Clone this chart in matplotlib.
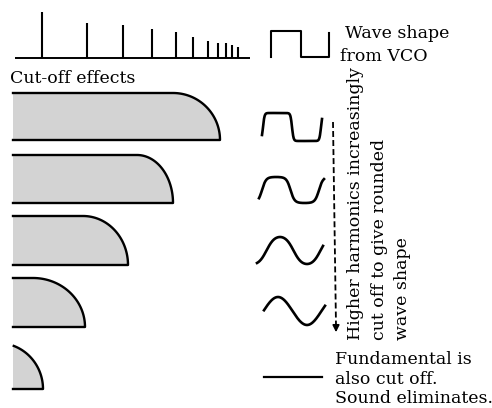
import numpy as np
import matplotlib.pyplot as plt
from matplotlib.patches import Polygon

# harmonic spectrum of the VCO square wave (pixel positions / heights)
harm_x = [42, 87, 123, 152, 176, 193, 208, 218, 226, 232, 238]
harm_h = [45.7, 35, 32.7, 29, 26, 21, 16.7, 15, 15, 13.3, 11.3]
spec_base = 58

# filter cut-off shapes: flat top, rounded roll-off
cut_left = 13
cut_top = [93, 155, 216, 278, 343]
cut_bot = [140, 203, 265, 327, 389]
cut_start = [173, 137, 83, 33, -2]
cut_end = [220, 173, 128, 85, 43]

# resulting wave shapes (centre, amplitude, rising crossing, period, squareness, x range)
wave_mid = [127, 190, 250.5, 311]
wave_amp = [14, 13, 13.5, 14]
wave_x0 = [263, 262, 266.5, 263.5]
wave_per = [58, 57, 54, 58]
wave_k = [6.0, 2.2, 0.8, 0.01]
wave_xa = [262, 259, 257, 264]
wave_xb = [322, 324, 323, 325]

serif = ['DejaVu Serif']
fs = 12.5

fig = plt.figure(figsize=(4.92, 4.08), dpi=100)
ax = fig.add_axes([0, 0, 1, 1])
ax.set_xlim(0, 492)
ax.set_ylim(408, 0)
ax.axis('off')

# spectrum
ax.plot([15, 250], [spec_base, spec_base], color='k', lw=1.4, solid_capstyle='butt')
ax.vlines(harm_x, spec_base, np.array(spec_base) - np.array(harm_h), color='k', lw=1.5)

# square wave from VCO
ax.plot([271, 271, 301, 301, 329, 329], [57, 31, 31, 57, 57, 33], color='k', lw=1.5)
ax.text(345, 38, 'Wave shape', fontsize=fs, family=serif, va='baseline', ha='left')
ax.text(340, 61, 'from VCO', fontsize=fs, family=serif, va='baseline', ha='left')
ax.text(10, 83, 'Cut-off effects', fontsize=fs, family=serif, va='baseline', ha='left')

# cut-off shapes
for top, bot, xs, xe in zip(cut_top, cut_bot, cut_start, cut_end):
    t = np.linspace(0, np.pi / 2, 80)
    cx = xs + (xe - xs) * np.sin(t)
    cy = bot - (bot - top) * np.cos(t)
    keep = cx >= cut_left
    cx, cy = cx[keep], cy[keep]
    if xs > cut_left:
        ox = np.concatenate([[cut_left], cx])
        oy = np.concatenate([[top], cy])
    else:
        ox, oy = cx, cy
    px = np.concatenate([ox, [cut_left]])
    py = np.concatenate([oy, [bot]])
    ax.add_patch(Polygon(np.column_stack([np.concatenate([px, [cut_left]]),
                                          np.concatenate([py, [oy[0]]])]),
                         closed=True, facecolor='#d3d3d3', edgecolor='none'))
    ax.plot(px, py, color='k', lw=1.7, solid_joinstyle='round')

# wave shapes
for mid, amp, x0, per, k, xa, xb in zip(wave_mid, wave_amp, wave_x0, wave_per, wave_k, wave_xa, wave_xb):
    x = np.linspace(xa, xb, 300)
    y = np.tanh(k * np.sin(2 * np.pi * (x - x0) / per)) / np.tanh(k)
    ax.plot(x, mid - amp * y, color='k', lw=1.9)

# fundamental also cut off
ax.plot([264, 322], [377, 377], color='k', lw=1.6)

# dashed arrow
ax.plot([333, 336], [122, 326], color='k', lw=1.3, linestyle=(0, (3.3, 1.7)))
ax.annotate('', xy=(336, 335), xytext=(336, 324),
            arrowprops=dict(arrowstyle='-|>', color='k', lw=1.2, mutation_scale=10))

# rotated caption
rot_lines = ['Higher harmonics increasingly', 'cut off to give rounded', 'wave shape']
rot_x = [360, 384, 407]
for s, xx in zip(rot_lines, rot_x):
    ax.text(xx, 340, s, fontsize=fs, family=serif, rotation=90,
            rotation_mode='anchor', ha='left', va='baseline')

bot_lines = ['Fundamental is', 'also cut off.', 'Sound eliminates.']
bot_y = [364, 384, 403]
for s, yy in zip(bot_lines, bot_y):
    ax.text(335, yy, s, fontsize=fs, family=serif, va='baseline', ha='left')

fig.savefig('out.png', dpi=100)
